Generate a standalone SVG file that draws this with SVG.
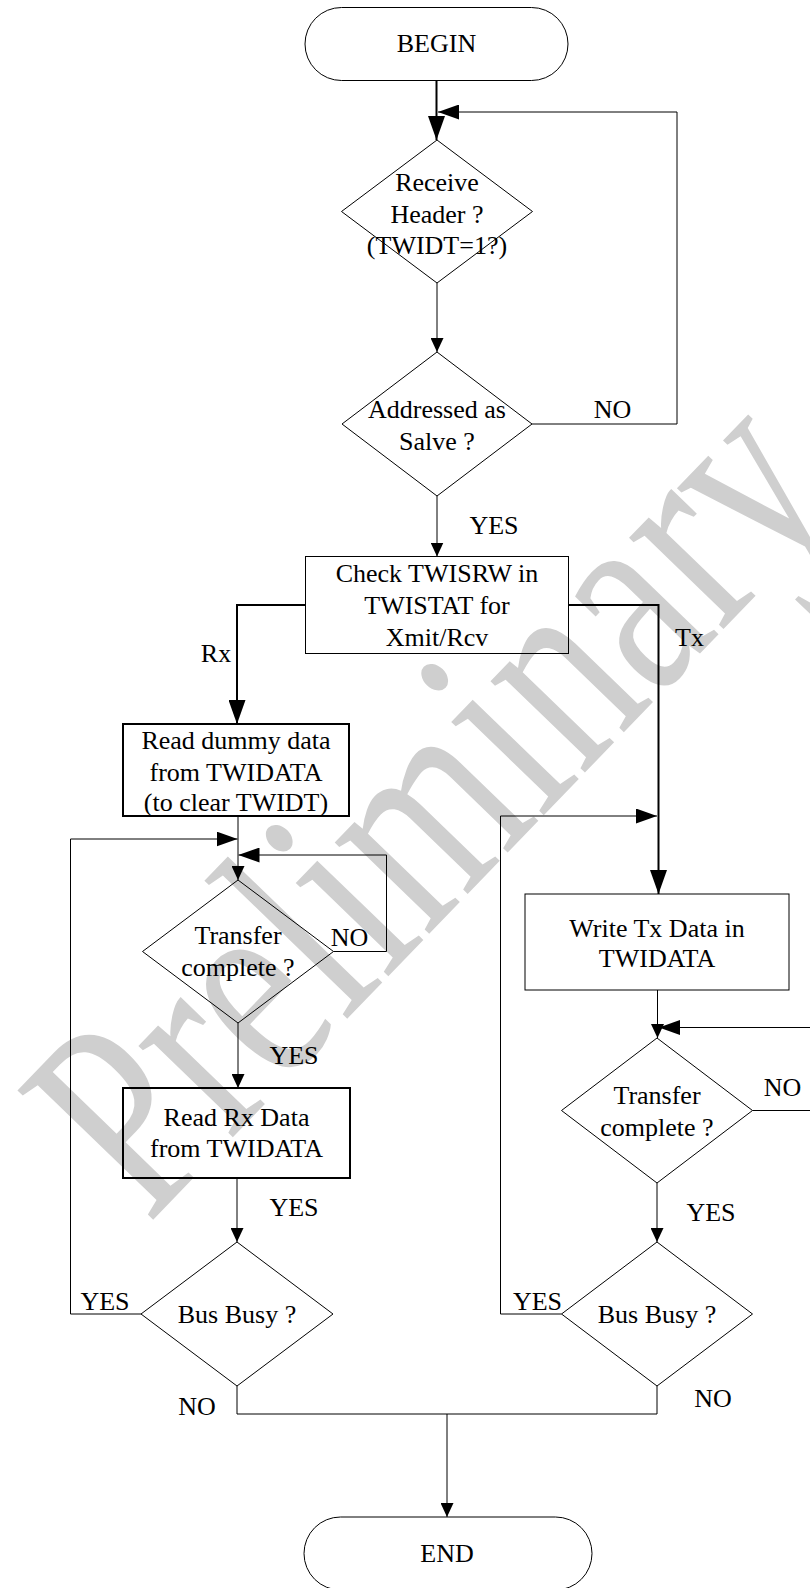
<svg xmlns="http://www.w3.org/2000/svg" width="810" height="1588" viewBox="0 0 810 1588">
<defs>
<style>
.shape{fill:none;stroke:#000;stroke-width:1}
.bold{stroke-width:2}
.c{fill:none;stroke:#000;stroke-width:1}
.ct{stroke-width:2}
text{font-family:"Liberation Serif","Times New Roman",serif;font-size:26px;fill:#000;text-anchor:middle}
.wm{fill:#cfcfcf;font-size:212px;text-anchor:start}
</style>
<marker id="as" markerUnits="userSpaceOnUse" markerWidth="14" markerHeight="13" refX="14" refY="6.5" orient="auto"><path d="M0,0 L14,6.5 L0,13 z" fill="#000"/></marker>
<marker id="am" markerUnits="userSpaceOnUse" markerWidth="21" markerHeight="15" refX="21" refY="7.5" orient="auto"><path d="M0,0 L21,7.5 L0,15 z" fill="#000"/></marker>
<marker id="al" markerUnits="userSpaceOnUse" markerWidth="24" markerHeight="17" refX="24" refY="8.5" orient="auto"><path d="M0,0 L24,8.5 L0,17 z" fill="#000"/></marker>
</defs>
<rect width="810" height="1588" fill="#fff"/>
<text class="wm" transform="translate(148,1225) rotate(-46) scale(1,1.35)">Preliminary</text>

<g id="connectors">
<path class="c ct" d="M436.5,81 V140" marker-end="url(#al)"/>
<path class="c" d="M437,283 V352" marker-end="url(#as)"/>
<path class="c" d="M532,424 H677 V112 H438" marker-end="url(#am)"/>
<path class="c" d="M437,496 V556.5" marker-end="url(#as)"/>
<path class="c ct" d="M305.5,605 H237 V724" marker-end="url(#al)"/>
<path class="c ct" d="M568.5,605 H658.5 V894" marker-end="url(#al)"/>
<path class="c" d="M238,816 V880" marker-end="url(#as)"/>
<path class="c" d="M333.5,951.5 H386.5 V855 H238.5" marker-end="url(#am)"/>
<path class="c" d="M238,1023 V1088" marker-end="url(#as)"/>
<path class="c" d="M237,1178 V1242" marker-end="url(#as)"/>
<path class="c" d="M141,1314 H70.5 V839 H237.5" marker-end="url(#am)"/>
<path class="c" d="M657.5,990 V1038" marker-end="url(#as)"/>
<path class="c" d="M752.5,1110.5 H830 V1027.5 H659" marker-end="url(#am)"/>
<path class="c" d="M657,1183 V1242" marker-end="url(#as)"/>
<path class="c" d="M561.5,1314 H500.5 V816 H657" marker-end="url(#am)"/>
<path class="c" d="M237,1386 V1414 H657 V1386"/>
<path class="c" d="M447,1414 V1517" marker-end="url(#as)"/>
<text x="612.5" y="418">NO</text>
<text x="494" y="534">YES</text>
<text x="216" y="662">Rx</text>
<text x="675" y="645.5" style="text-anchor:start">Tx</text>
<text x="349.5" y="945.5">NO</text>
<text x="294" y="1064">YES</text>
<text x="294" y="1215.5">YES</text>
<text x="105" y="1309.5">YES</text>
<text x="197" y="1415">NO</text>
<text x="782.5" y="1095.5">NO</text>
<text x="711" y="1220.5">YES</text>
<text x="537.5" y="1309.5">YES</text>
<text x="713" y="1407">NO</text>
</g>

<g id="begin">
<rect class="shape" x="305" y="7.5" width="263" height="73" rx="36.5"/>
<text x="436.5" y="52">BEGIN</text>
</g>
<g id="receive-header">
<polygon class="shape" points="437,140 532.5,211.5 437,283 341.5,211.5"/>
<text x="437" y="191">Receive</text>
<text x="437" y="222.5">Header ?</text>
<text x="437" y="254">(TWIDT=1?)</text>
</g>
<g id="addressed">
<polygon class="shape" points="437,352 532,424 437,496 342,424"/>
<text x="437" y="418">Addressed as</text>
<text x="437" y="450">Salve ?</text>
</g>
<g id="check">
<rect class="shape" x="305.5" y="556.5" width="263" height="97"/>
<text x="437" y="582">Check TWISRW in</text>
<text x="437" y="614">TWISTAT for</text>
<text x="437" y="645.5">Xmit/Rcv</text>
</g>
<g id="read-dummy">
<rect class="shape bold" x="123" y="724" width="226" height="92"/>
<text x="236" y="749">Read dummy data</text>
<text x="236" y="780.5">from TWIDATA</text>
<text x="236" y="810.5">(to clear TWIDT)</text>
</g>
<g id="transfer-rx">
<polygon class="shape" points="238,880 333.5,951.5 238,1023 142.5,951.5"/>
<text x="238" y="944">Transfer</text>
<text x="238" y="975.5">complete ?</text>
</g>
<g id="read-rx">
<rect class="shape bold" x="123" y="1088" width="227" height="90"/>
<text x="236.5" y="1126">Read Rx Data</text>
<text x="236.5" y="1157">from TWIDATA</text>
</g>
<g id="busy-rx">
<polygon class="shape" points="237,1242 333,1314 237,1386 141,1314"/>
<text x="237" y="1323">Bus Busy ?</text>
</g>
<g id="write-tx">
<rect class="shape" x="525" y="894" width="264" height="96"/>
<text x="657" y="937">Write Tx Data in</text>
<text x="657" y="967">TWIDATA</text>
</g>
<g id="transfer-tx">
<polygon class="shape" points="657,1038 752.5,1110.5 657,1183 561.5,1110.5"/>
<text x="657" y="1104">Transfer</text>
<text x="657" y="1135.5">complete ?</text>
</g>
<g id="busy-tx">
<polygon class="shape" points="657,1242 752.5,1314 657,1386 561.5,1314"/>
<text x="657" y="1323">Bus Busy ?</text>
</g>
<g id="end">
<rect class="shape" x="304" y="1517" width="288" height="73" rx="36.5"/>
<text x="447" y="1562">END</text>
</g>
</svg>
